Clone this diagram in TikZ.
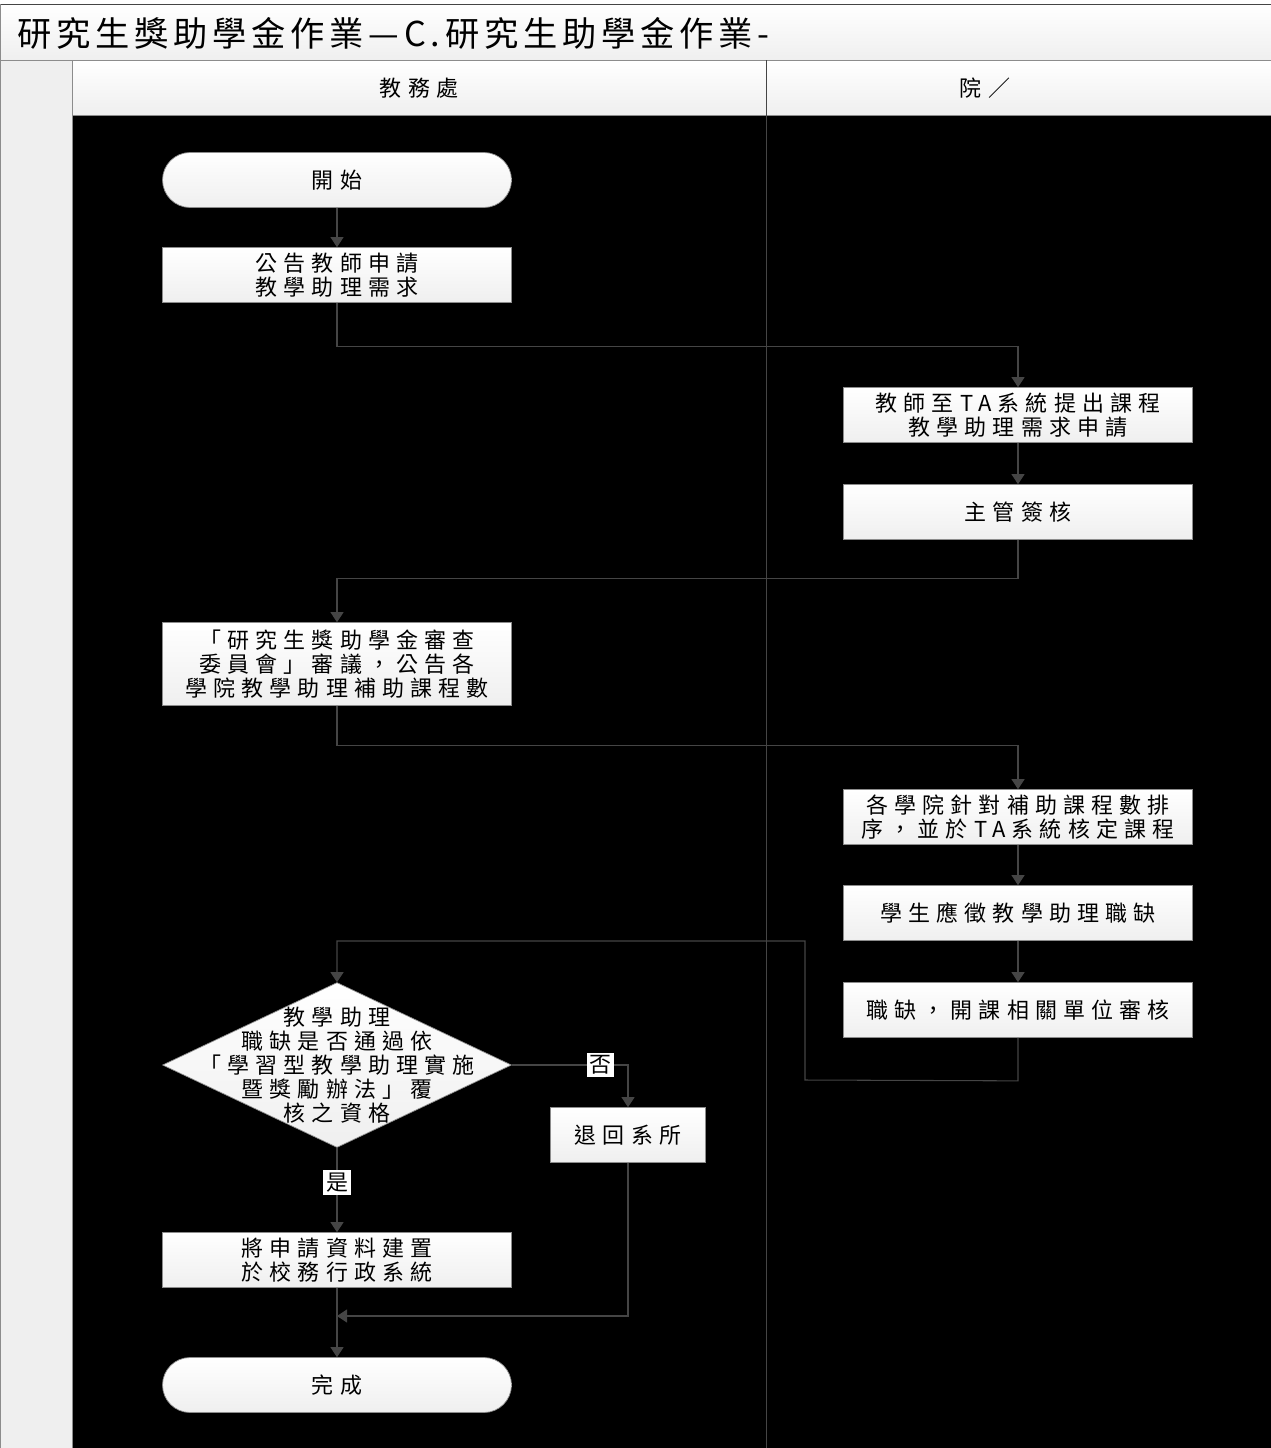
\documentclass[tikz,border=0pt]{standalone}
\usepackage{fontspec}
\usepackage{xcolor}
\usepackage{tikz}
\usetikzlibrary{arrows.meta,shapes.geometric,positioning,calc}
\newfontfamily\cjk[LetterSpace=28]{Noto Sans CJK TC}
\newfontfamily\cjktitle[LetterSpace=14]{Noto Sans CJK TC}
\newcommand{\boxfont}{\cjk\fontsize{12.5}{13.7}\selectfont}
\newcommand{\titlefont}{\cjktitle\fontsize{19.5}{22}\selectfont}
\definecolor{lineclr}{HTML}{454545}
\definecolor{paneclr}{HTML}{EFEFEF}
\definecolor{edgeclr}{HTML}{8C8C8C}

\begin{document}
\begin{tikzpicture}[x=0.02cm,y=-0.02cm,
		proc/.style={draw=edgeclr, top color=white, bottom color=paneclr, minimum width=6.98cm, minimum height=1.1cm, inner sep=0pt, align=center, font=\boxfont},
		term/.style={proc, rounded corners=0.55cm},
		decision/.style={diamond, draw=edgeclr, top color=white, bottom color=paneclr, minimum width=6.98cm, minimum height=3.3cm, inner sep=0pt},
		flow/.style={draw=lineclr, line width=0.6pt, -{Triangle[width=0.26cm,length=0.2cm]}},
		lbl/.style={fill=white, text=black, inner sep=1.5pt, font=\boxfont}]
		\useasboundingbox (0,0) rectangle (1271,1448);

		% frame and lanes
		\path[top color=white, bottom color=paneclr] (0,4) rectangle (1271,60);
		\path[top color=white, bottom color=paneclr] (72,60) rectangle (1271,115);
		\fill[paneclr] (0,60) rectangle (72,1448);
		\fill[black] (72,115) rectangle (1271,1448);
		\draw[lineclr] (0,4) -- (1271,4);
		\draw[edgeclr] (0.5,4) -- (0.5,1448);
		\draw[edgeclr] (0,60) -- (1271,60);
		\draw[edgeclr] (72,115) -- (1271,115);
		\draw[edgeclr] (72,60) -- (72,1448);
		\draw[lineclr] (766,60) -- (766,1448);

		\node[anchor=west, font=\titlefont, inner sep=0pt] (title) at (17,33) {研究生獎助學金作業—C.研究生助學金作業-};
		\node[font=\boxfont] (laneA) at (419,88) {教務處};
		\node[font=\boxfont] (laneB) at (985,88) {院／};

		% steps
		\node[term] (start) at (337,180) {開始};
		\node[proc] (annc) at (337,275) {公告教師申請\\教學助理需求};
		\node[proc] (tchr) at (1018,415) {教師至TA系統提出課程\\教學助理需求申請};
		\node[proc] (sign) at (1018,512) {主管簽核};
		\node[proc, minimum height=1.66cm] (cmte) at (337,664) {「研究生獎助學金審查\\委員會」審議，公告各\\學院教學助理補助課程數};
		\node[proc] (rank) at (1018,817) {各學院針對補助課程數排\\序，並於TA系統核定課程};
		\node[proc] (apply) at (1018,913) {學生應徵教學助理職缺};
		\node[proc] (revw) at (1018,1010) {職缺，開課相關單位審核};
		\node[decision] (chk) at (337,1065) {};
		\node[font=\boxfont, align=center] (chktxt) at (chk) {教學助理\\職缺是否通過依\\「學習型教學助理實施\\暨獎勵辦法」覆\\核之資格};
		\node[proc, minimum width=3.1cm] (back) at (628,1135) {退回系所};
		\node[proc] (store) at (337,1260) {將申請資料建置\\於校務行政系統};
		\node[term] (done) at (337,1385) {完成};
		\coordinate (join) at (337,1316);

		% connectors
		\draw[flow] (start) -- (annc);
		\draw[flow] (annc.south) -- ++(0,44) -| (tchr.north);
		\draw[flow] (tchr) -- (sign);
		\draw[flow] (sign.south) -- ++(0,39) -| (cmte.north);
		\draw[flow] (cmte.south) -- ++(0,40) -| (rank.north);
		\draw[flow] (rank) -- (apply);
		\draw[flow] (apply) -- (revw);
		\draw[flow] (revw.south) -- ++(0,43) -- (805,1080) -- (805,941) -| (chk.north);
		\draw[flow] (chk.east) -| node[lbl, pos=0.38] {否} (back.north);
		\draw[flow] (chk.south) -- node[lbl, pos=0.41] {是} (store.north);
		\draw[flow] (store) -- (done);
		\draw[flow] (back.south) |- (join);
	\end{tikzpicture}
\end{document}
